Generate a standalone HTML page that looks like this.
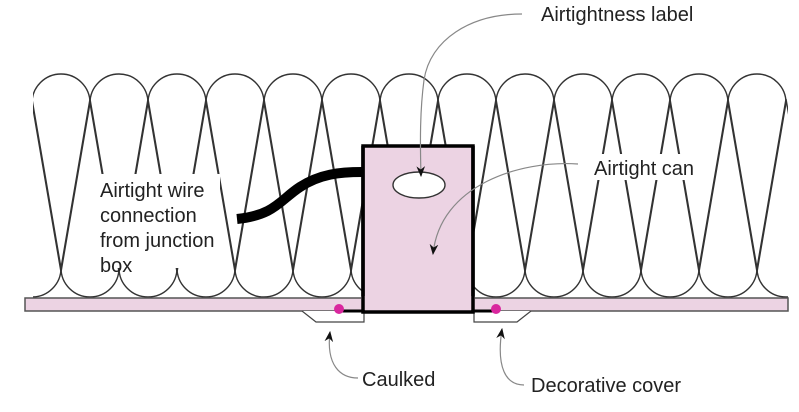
<!DOCTYPE html>
<html><head><style>
html,body{margin:0;padding:0;background:#fff;}
svg{display:block;}
text{font-family:"Liberation Sans",sans-serif;font-size:20px;fill:#222;}
</style></head><body>
<svg width="799" height="412" viewBox="0 0 799 412" xmlns="http://www.w3.org/2000/svg">
<defs>
<clipPath id="c"><rect x="33" y="0" width="755" height="298"/></clipPath>
<marker id="ar" viewBox="0 0 10 10" refX="9" refY="5" markerWidth="9" markerHeight="9" orient="auto-start-reverse"><path d="M0,1 L10,5 L0,9 L3,5 Z" fill="#111"/></marker>
</defs>
<g clip-path="url(#c)" fill="none" stroke="#333" stroke-width="1.4">
<g id="u">
<path d="M32,103 A29,29 0 1 1 90,103 L61,272 Z"/>
</g>
<use href="#u" x="58"/><use href="#u" x="116"/><use href="#u" x="174"/><use href="#u" x="232"/><use href="#u" x="290"/><use href="#u" x="348"/><use href="#u" x="406"/><use href="#u" x="464"/><use href="#u" x="522"/><use href="#u" x="580"/><use href="#u" x="638"/><use href="#u" x="696"/>
<g id="l">
<path d="M3,268 A29,29 0 1 0 61,268 L32,99 Z"/>
</g>
<use href="#l" x="58"/><use href="#l" x="116"/><use href="#l" x="174"/><use href="#l" x="232"/><use href="#l" x="290"/><use href="#l" x="348"/><use href="#l" x="406"/><use href="#l" x="464"/><use href="#l" x="522"/><use href="#l" x="580"/><use href="#l" x="638"/><use href="#l" x="696"/><use href="#l" x="754"/>
</g>
<rect x="98" y="174" width="122" height="94" fill="#fff"/>
<rect x="590" y="154" width="108" height="26" fill="#fff"/>
<rect x="25" y="298" width="763" height="13" fill="#ecd3e3" stroke="#555" stroke-width="1.5"/>
<path d="M302,311 L316,322 L364,322 L364,311" fill="#fff" stroke="#444" stroke-width="1.2"/>
<path d="M474,311 L474,322 L517,322 L531,311" fill="#fff" stroke="#444" stroke-width="1.2"/>
<rect x="363" y="146" width="110" height="166" fill="#ecd3e3" stroke="#000" stroke-width="3.5"/>
<rect x="361" y="296" width="114" height="14" fill="#ecd3e3"/>
<path d="M363,146 L363,311 M473,146 L473,311" stroke="#000" stroke-width="3.5"/>
<path d="M339,311 L363,311 M473,311 L496,311" stroke="#000" stroke-width="3"/>
<circle cx="339" cy="309" r="5" fill="#d9279e"/>
<circle cx="496" cy="309" r="5" fill="#d9279e"/>
<ellipse cx="419" cy="185" rx="26" ry="13" fill="#fff" stroke="#333" stroke-width="1.4"/>
<path d="M237,219 C275,215 280,200 300,187 C320,174 340,172 362,172" fill="none" stroke="#000" stroke-width="10"/>
<path d="M522,14 C470,14 430,40 424,80 C420,110 420,140 421,176" fill="none" stroke="#888" stroke-width="1.2" marker-end="url(#ar)"/>
<path d="M578,164 C520,160 440,185 433,254" fill="none" stroke="#888" stroke-width="1.2" marker-end="url(#ar)"/>
<path d="M358,378 C340,378 326,365 330,332" fill="none" stroke="#888" stroke-width="1.2" marker-end="url(#ar)"/>
<path d="M524,385 C506,385 496,368 502,329" fill="none" stroke="#888" stroke-width="1.2" marker-end="url(#ar)"/>
<text x="541" y="21">Airtightness label</text>
<text x="594" y="175">Airtight can</text>
<text x="100" y="197">Airtight wire</text>
<text x="100" y="222">connection</text>
<text x="100" y="247">from junction</text>
<text x="100" y="272">box</text>
<text x="362" y="386">Caulked</text>
<text x="531" y="392">Decorative cover</text>
</svg>
</body></html>
